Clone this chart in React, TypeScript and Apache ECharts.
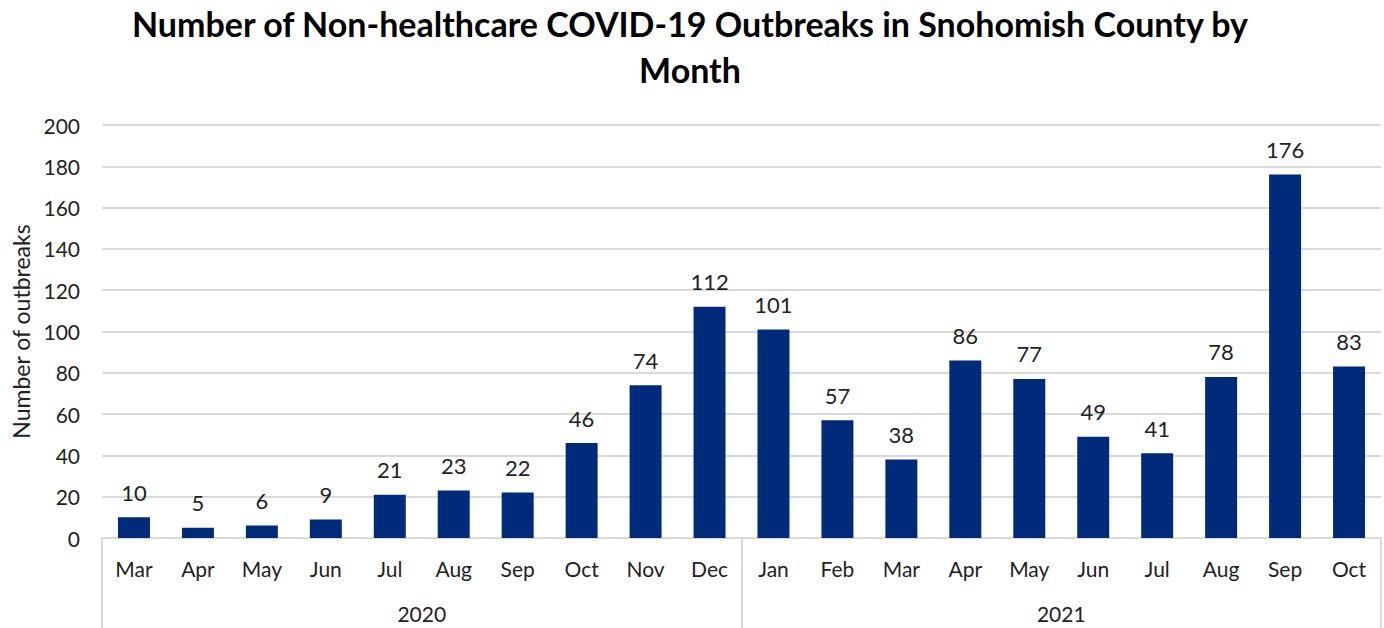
import React, { useEffect, useRef } from "react";
import * as echarts from "echarts";

const months = ["Mar","Apr","May","Jun","Jul","Aug","Sep","Oct","Nov","Dec","Jan","Feb","Mar","Apr","May","Jun","Jul","Aug","Sep","Oct"];
const years = ["2020", "2021"];
const outbreaks = [10, 5, 6, 9, 21, 23, 22, 46, 74, 112, 101, 57, 38, 86, 77, 49, 41, 78, 176, 83];
const yTicks = { min: 0, max: 200, interval: 20 };

const FONT = "Lato, 'Noto Sans', sans-serif";

export default function App() {
  const ref = useRef<HTMLDivElement>(null);
  useEffect(() => {
    const chart = echarts.init(ref.current!, null, { renderer: "svg" });
    chart.setOption({
      animation: false,
      backgroundColor: "#ffffff",
      textStyle: { fontFamily: FONT },
      title: {
        text: "Number of Non-healthcare COVID-19 Outbreaks in Snohomish County by\nMonth",
        left: 690,
        textAlign: "center",
        top: 0,
        padding: 0,
        textStyle: { fontFamily: FONT, fontSize: 34, fontWeight: "bold", color: "#000", lineHeight: 46 },
      },
      grid: { left: 102, right: 3, top: 125, bottom: 90, containLabel: false },
      xAxis: [
        {
          type: "category",
          data: months,
          position: "bottom",
          axisLine: { show: true, lineStyle: { color: "#d9d9d9", width: 2 } },
          axisTick: { show: false },
          axisLabel: { margin: 20, fontSize: 21, color: "#222", fontFamily: FONT, interval: 0 },
        },
        {
          type: "category",
          data: years,
          position: "bottom",
          axisLine: { show: false },
          axisTick: { show: true, length: 92, lineStyle: { color: "#d9d9d9", width: 2 } },
          axisLabel: { margin: 65, fontSize: 21, color: "#222", fontFamily: FONT },
        },
      ],
      yAxis: {
        type: "value",
        min: yTicks.min,
        max: yTicks.max,
        interval: yTicks.interval,
        name: "Number of outbreaks",
        nameLocation: "middle",
        nameGap: 70,
        nameTextStyle: { fontSize: 23, color: "#222", fontFamily: FONT },
        axisLine: { show: false },
        axisTick: { show: false },
        axisLabel: { margin: 22, fontSize: 21, color: "#222", fontFamily: FONT },
        splitLine: { lineStyle: { color: "#d9d9d9", width: 2 } },
      },
      series: [
        {
          type: "bar",
          data: outbreaks,
          xAxisIndex: 0,
          barWidth: "50%",
          itemStyle: { color: "#002A7A" },
          label: { show: true, position: "top", distance: 14, fontSize: 22, color: "#222", fontFamily: FONT },
        },
      ],
    });
    return () => chart.dispose();
  }, []);
  return <div ref={ref} style={{ position: "fixed", left: 0, top: 0, width: 1384, height: 628 }} />;
}
